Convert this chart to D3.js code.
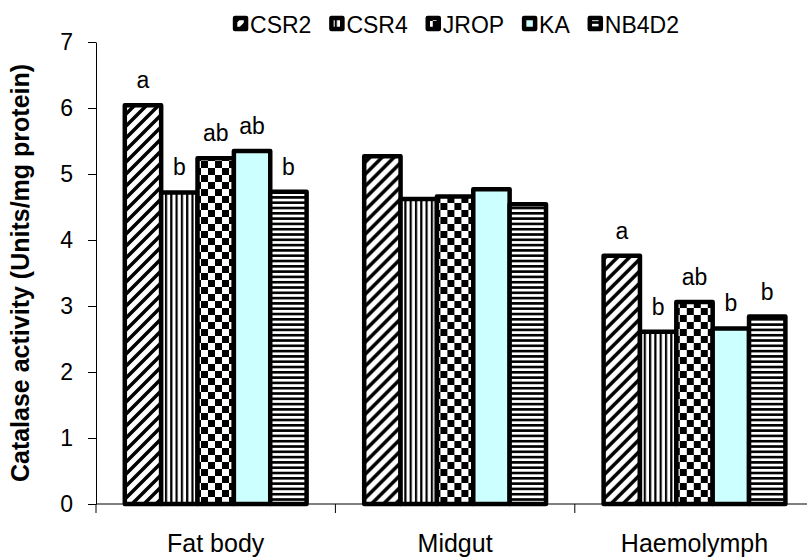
<!DOCTYPE html>
<html lang="en">
<head>
<meta charset="UTF-8">
<script src="https://d3js.org/d3.v7.min.js"></script>
<style>
    body { margin: 0; background: #fff; }
    svg { display: block; font-family: "Liberation Sans", Arial, sans-serif; }
</style>
</head>
<body>
<script>
    // data
    var categories = ["Fat body", "Midgut", "Haemolymph"];
    var seriesNames = ["CSR2", "CSR4", "JROP", "KA", "NB4D2"];
    var csr2 = [6.04, 5.27, 3.76];
    var csr4 = [4.72, 4.62, 2.61];
    var jrop = [5.24, 4.66, 3.06];
    var ka = [5.35, 4.77, 2.66];
    var nb4d2 = [4.73, 4.54, 2.84];
    var csr2Sig = ["a", "", "a"];
    var csr4Sig = ["b", "", "b"];
    var jropSig = ["ab", "", "ab"];
    var kaSig = ["ab", "", "b"];
    var nb4d2Sig = ["b", "", "b"];
    var yTicks = [0, 1, 2, 3, 4, 5, 6, 7];

    var values = [csr2, csr4, jrop, ka, nb4d2];
    var sigs = [csr2Sig, csr4Sig, jropSig, kaSig, nb4d2Sig];
    var fills = ["url(#diag)", "url(#vert)", "url(#check)", "#ccffff", "url(#horiz)"];

    var width = 807, height = 559;
    var plotLeft = 96, plotBottom = 504, plotTop = 42, catW = 239.4;

    var svg = d3.select("body").append("svg")
        .attr("width", width)
        .attr("height", height);

    // fill patterns
    var defs = svg.append("defs");
    var p = defs.append("pattern").attr("id", "diag").attr("patternUnits", "userSpaceOnUse")
        .attr("width", 12).attr("height", 12);
    p.append("rect").attr("width", 12).attr("height", 12).attr("fill", "#fff");
    p.append("path").attr("d", "M-2,14 L14,-2 M-8,8 L8,-8 M4,20 L20,4")
        .attr("stroke", "#000").attr("stroke-width", 3.5);

    p = defs.append("pattern").attr("id", "vert").attr("patternUnits", "userSpaceOnUse")
        .attr("width", 5.3).attr("height", 5);
    p.append("rect").attr("width", 5.3).attr("height", 5).attr("fill", "#fff");
    p.append("rect").attr("width", 2.2).attr("height", 5).attr("fill", "#000");

    p = defs.append("pattern").attr("id", "horiz").attr("patternUnits", "userSpaceOnUse")
        .attr("width", 5).attr("height", 5.3);
    p.append("rect").attr("width", 5).attr("height", 5.3).attr("fill", "#fff");
    p.append("rect").attr("width", 5).attr("height", 2.6).attr("fill", "#000");

    p = defs.append("pattern").attr("id", "check").attr("patternUnits", "userSpaceOnUse")
        .attr("width", 14).attr("height", 14);
    p.append("rect").attr("width", 14).attr("height", 14).attr("fill", "#fff");
    p.append("rect").attr("width", 7).attr("height", 7).attr("fill", "#000");
    p.append("rect").attr("x", 7).attr("y", 7).attr("width", 7).attr("height", 7).attr("fill", "#000");

    // scales
    var x0 = d3.scaleBand().domain(categories).range([plotLeft, plotLeft + catW * categories.length]);
    var x1 = d3.scaleBand().domain(seriesNames).range([28.8, catW - 28.8]);
    var y = d3.scaleLinear().domain([0, 7]).range([plotBottom, plotTop]);

    // y axis
    var yAxis = svg.append("g")
        .attr("transform", "translate(" + plotLeft + ",0)")
        .call(d3.axisLeft(y).tickValues(yTicks).tickFormat(d3.format("d"))
            .tickSize(8).tickSizeOuter(0).tickPadding(15));
    yAxis.selectAll("text").attr("font-size", 23).attr("fill", "#000")
        .attr("font-family", "Liberation Sans, Arial, sans-serif");
    yAxis.selectAll("line, path").attr("stroke", "#000");

    // x axis line and category boundaries
    svg.append("line").attr("x1", plotLeft).attr("x2", width).attr("y1", plotBottom).attr("y2", plotBottom)
        .attr("stroke", "#000");
    svg.selectAll(".xtick")
        .data(categories.concat(["end"]))
        .join("line")
        .attr("class", "xtick")
        .attr("x1", function (d, i) { return plotLeft + i * x0.step(); })
        .attr("x2", function (d, i) { return plotLeft + i * x0.step(); })
        .attr("y1", plotBottom).attr("y2", plotBottom + 9)
        .attr("stroke", "#000");
    svg.selectAll(".xlabel")
        .data(categories)
        .join("text")
        .attr("class", "xlabel")
        .attr("x", function (d) { return x0(d) + x0.bandwidth() / 2; })
        .attr("y", 552)
        .attr("text-anchor", "middle")
        .attr("font-size", 25)
        .text(function (d) { return d; });

    // bars
    var groups = svg.selectAll(".grp")
        .data(categories)
        .join("g")
        .attr("class", "grp")
        .attr("transform", function (d) { return "translate(" + x0(d) + ",0)"; });

    groups.selectAll("rect")
        .data(function (d, ci) {
            return seriesNames.map(function (s, si) {
                return { s: s, v: values[si][ci], fill: fills[si] };
            });
        })
        .join("rect")
        .attr("x", function (d) { return x1(d.s); })
        .attr("y", function (d) { return y(d.v); })
        .attr("width", x1.bandwidth())
        .attr("height", function (d) { return plotBottom - y(d.v); })
        .attr("fill", function (d) { return d.fill; })
        .attr("stroke", "#000")
        .attr("stroke-width", 4.5)
        .attr("stroke-linejoin", "round");

    // significance letters
    groups.selectAll("text")
        .data(function (d, ci) {
            return seriesNames.map(function (s, si) {
                return { s: s, v: values[si][ci], sig: sigs[si][ci] };
            }).filter(function (d) { return d.sig !== ""; });
        })
        .join("text")
        .attr("x", function (d) { return x1(d.s) + x1.bandwidth() / 2; })
        .attr("y", function (d) { return y(d.v) - 17; })
        .attr("text-anchor", "middle")
        .attr("font-size", 23)
        .text(function (d) { return d.sig; });

    // y axis title
    svg.append("text")
        .attr("transform", "translate(29," + (plotTop + plotBottom) / 2 + ") rotate(-90)")
        .attr("text-anchor", "middle")
        .attr("font-size", 25)
        .attr("font-weight", "bold")
        .text("Catalase activity (Units/mg protein)");

    // legend
    var legend = svg.append("g");
    var lx = 0;
    seriesNames.forEach(function (s, i) {
        var item = legend.append("g").attr("transform", "translate(" + lx + ",0)");
        item.append("rect")
            .attr("x", 2).attr("y", 18).attr("width", 11).attr("height", 11)
            .attr("fill", fills[i]).attr("stroke", "#000").attr("stroke-width", 4.5)
            .attr("stroke-linejoin", "round");
        var t = item.append("text")
            .attr("x", 17).attr("y", 33)
            .attr("font-size", 23)
            .text(s);
        lx += 17 + t.node().getComputedTextLength() + 18;
    });
    var lw = lx - 18;
    legend.attr("transform", "translate(" + (456 - lw / 2) + ",0)");
</script>
</body>
</html>
